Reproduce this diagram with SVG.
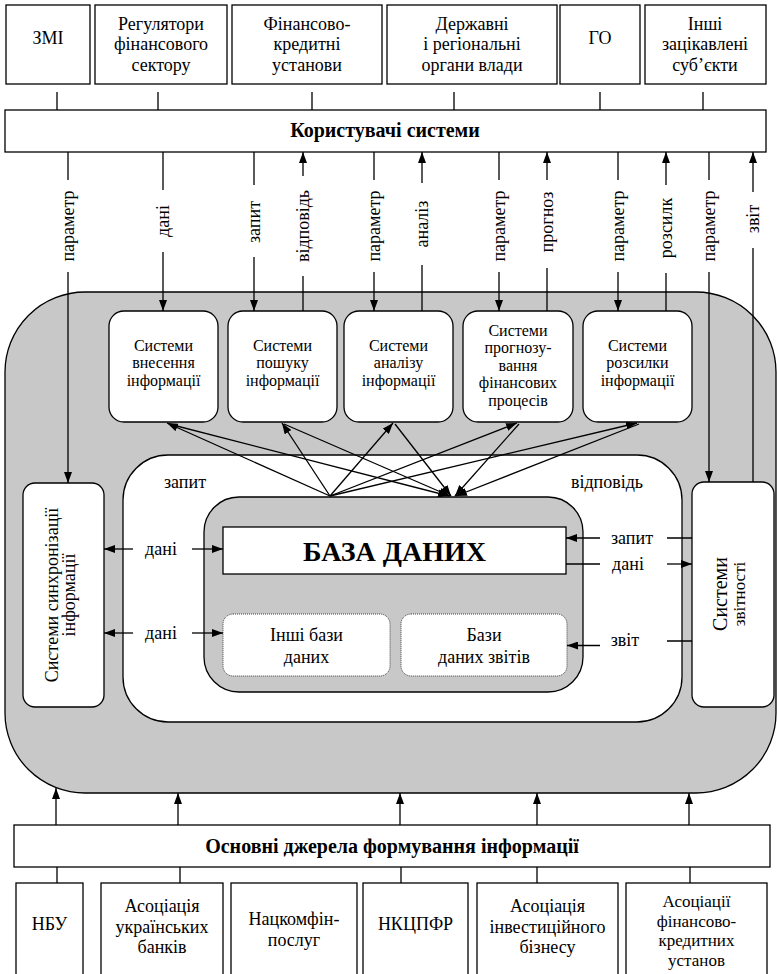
<svg xmlns="http://www.w3.org/2000/svg" width="777" height="974" viewBox="0 0 777 974" font-family="Liberation Serif, Times New Roman, serif" font-size="18" text-anchor="middle">
<style>
.box{fill:#fff;stroke:#000;stroke-width:1.3}
.gray{fill:#c8c8c8;stroke:#000;stroke-width:1.3}
.dot{fill:#fff;stroke:#444;stroke-width:1;stroke-dasharray:1 1}
.ln{fill:none;stroke:#000;stroke-width:1.3}
.bg{fill:#fff}
.tx{fill:#000;font-family:'Liberation Serif','Times New Roman',serif}
</style>
<defs>
<marker id="ah" markerWidth="11" markerHeight="8" refX="11" refY="4" orient="auto" markerUnits="userSpaceOnUse">
<path d="M0,0 L11,4 L0,8 z" fill="#000"/>
</marker>
</defs>
<rect width="777" height="974" fill="#fff"/>

<g id="zmi"><rect class="box" x="6" y="5" width="84" height="79"/><text class="tx" x="48" y="44">ЗМІ</text></g>
<g id="regulators"><rect class="box" x="95" y="5" width="132" height="79"/><text class="tx" x="161" y="29.5">Регулятори</text><text class="tx" x="161" y="50">фінансового</text><text class="tx" x="161" y="70.5">сектору</text></g>
<g id="fin-credit"><rect class="box" x="232" y="5" width="150" height="79"/><text class="tx" x="307" y="29.5">Фінансово-</text><text class="tx" x="307" y="50">кредитні</text><text class="tx" x="307" y="70.5">установи</text></g>
<g id="state"><rect class="box" x="387" y="5" width="170" height="79"/><text class="tx" x="472" y="29.5">Державні</text><text class="tx" x="472" y="50">і регіональні</text><text class="tx" x="472" y="70.5">органи влади</text></g>
<g id="go"><rect class="box" x="560" y="5" width="80" height="79"/><text class="tx" x="600" y="44">ГО</text></g>
<g id="others"><rect class="box" x="645" y="5" width="121" height="79"/><text class="tx" x="705" y="29.5">Інші</text><text class="tx" x="705" y="50">зацікавлені</text><text class="tx" x="705" y="70.5">суб’єкти</text></g>
<g id="users"><rect class="box" x="5" y="110" width="761" height="42"/><text class="tx" x="385" y="136.5" font-weight="bold" font-size="20">Користувачі системи</text></g>

<g id="container"><rect class="gray" x="5" y="292" width="771" height="501" rx="80" ry="80"/></g>

<g id="sys-input" font-size="16"><rect class="box" x="109" y="311" width="109" height="111" rx="15"/><text class="tx" x="163.5" y="350.5">Системи</text><text class="tx" x="163.5" y="368">внесення</text><text class="tx" x="163.5" y="385.5">інформації</text></g>
<g id="sys-search" font-size="16"><rect class="box" x="228" y="311" width="109" height="111" rx="15"/><text class="tx" x="282.5" y="350.5">Системи</text><text class="tx" x="282.5" y="368">пошуку</text><text class="tx" x="282.5" y="385.5">інформації</text></g>
<g id="sys-analysis" font-size="16"><rect class="box" x="344" y="311" width="109" height="111" rx="15"/><text class="tx" x="398.5" y="350.5">Системи</text><text class="tx" x="398.5" y="368">аналізу</text><text class="tx" x="398.5" y="385.5">інформації</text></g>
<g id="sys-forecast" font-size="16"><rect class="box" x="463" y="311" width="110" height="111" rx="15"/><text class="tx" x="518" y="335.5">Системи</text><text class="tx" x="518" y="353">прогнозу-</text><text class="tx" x="518" y="370.5">вання</text><text class="tx" x="518" y="388">фінансових</text><text class="tx" x="518" y="405.5">процесів</text></g>
<g id="sys-mailing" font-size="16"><rect class="box" x="583" y="311" width="109" height="111" rx="15"/><text class="tx" x="637.5" y="350.5">Системи</text><text class="tx" x="637.5" y="368">розсилки</text><text class="tx" x="637.5" y="385.5">інформації</text></g>

<g id="white-zone"><rect class="box" x="123" y="455" width="559" height="267" rx="45"/><text class="tx" x="185" y="487.5">запит</text><text class="tx" x="607" y="487.5">відповідь</text></g>
<g id="db-zone"><rect class="gray" x="204" y="497" width="379" height="195" rx="35"/></g>
<g id="db"><rect class="box" x="223" y="527" width="343" height="47"/><text class="tx" x="394.5" y="561" font-weight="bold" font-size="28">БАЗА ДАНИХ</text></g>
<g id="other-db"><rect class="dot" x="223" y="614" width="167" height="62" rx="10"/><text class="tx" x="306.5" y="641">Інші бази</text><text class="tx" x="306.5" y="662.5">даних</text></g>
<g id="report-db"><rect class="dot" x="401" y="614" width="166" height="62" rx="10"/><text class="tx" x="484" y="641">Бази</text><text class="tx" x="484" y="662.5">даних звітів</text></g>
<g id="sys-sync"><rect class="box" x="23" y="483" width="81" height="224" rx="12"/><text class="tx" transform="translate(58,595) rotate(-90)">Системи синхронізації</text><text class="tx" transform="translate(75,595) rotate(-90)">інформації</text></g>
<g id="sys-report"><rect class="box" x="692" y="482" width="82" height="225" rx="12"/><text class="tx" transform="translate(727,594) rotate(-90)" font-size="20">Системи</text><text class="tx" transform="translate(745,594) rotate(-90)" font-size="17">звітності</text></g>

<g id="sources"><rect class="box" x="14" y="825" width="756" height="42"/><text class="tx" x="392" y="852.5" font-weight="bold" font-size="20">Основні джерела формування інформації</text></g>
<g id="nbu"><rect class="box" x="16" y="883" width="67" height="100"/><text class="tx" x="49.5" y="929.5">НБУ</text></g>
<g id="aub"><rect class="box" x="101" y="883" width="122" height="100"/><text class="tx" x="162" y="911.5">Асоціація</text><text class="tx" x="162" y="932.5">українських</text><text class="tx" x="162" y="953">банків</text></g>
<g id="nfc"><rect class="box" x="231" y="883" width="126" height="100"/><text class="tx" x="294" y="925">Нацкомфін-</text><text class="tx" x="294" y="946">послуг</text></g>
<g id="nssmc"><rect class="box" x="363" y="883" width="105" height="100"/><text class="tx" x="415.5" y="929.5">НКЦПФР</text></g>
<g id="aib"><rect class="box" x="477" y="883" width="141" height="100"/><text class="tx" x="547.5" y="911.5">Асоціація</text><text class="tx" x="547.5" y="932.5">інвестиційного</text><text class="tx" x="547.5" y="953">бізнесу</text></g>
<g id="afci" font-size="17"><rect class="box" x="626" y="883" width="141" height="100"/><text class="tx" x="696.5" y="906.5">Асоціації</text><text class="tx" x="696.5" y="926.5">фінансово-</text><text class="tx" x="696.5" y="946">кредитних</text><text class="tx" x="696.5" y="965.5">установ</text></g>

<g id="connectors" class="ln">
<path class="ln" d="M57,92V110 M158,92V110 M312,92V110 M454,92V110 M600,92V110 M703,92V110"/>
<g marker-end="url(#ah)">
<path class="ln" d="M68,152V483"/>
<path class="ln" d="M163,152V311"/>
<path class="ln" d="M254,152V311"/>
<path class="ln" d="M303,311V152"/>
<path class="ln" d="M374,152V311"/>
<path class="ln" d="M422,311V152"/>
<path class="ln" d="M499,152V311"/>
<path class="ln" d="M547,311V152"/>
<path class="ln" d="M618,152V311"/>
<path class="ln" d="M666,311V152"/>
<path class="ln" d="M709,152V482"/>
<path class="ln" d="M753,482V152"/>
<path class="ln" d="M330,496L167,423"/>
<path class="ln" d="M330,496L282,423"/>
<path class="ln" d="M330,496L393,423"/>
<path class="ln" d="M330,496L517,423"/>
<path class="ln" d="M330,496L637,423"/>
<path class="ln" d="M169,424L449,496"/>
<path class="ln" d="M284,424L450,496"/>
<path class="ln" d="M395,424L451,496"/>
<path class="ln" d="M519,424L455,496"/>
<path class="ln" d="M639,424L456,496"/>
<path class="ln" d="M133,549H104"/>
<path class="ln" d="M192,549H223"/>
<path class="ln" d="M133,633H104"/>
<path class="ln" d="M192,633H223"/>
<path class="ln" d="M600,538H566"/>
<path class="ln" d="M667,564H692"/>
<path class="ln" d="M600,645.5H567"/>
<path class="ln" d="M56,825V788"/>
<path class="ln" d="M178,825V793"/>
<path class="ln" d="M400,825V793"/>
<path class="ln" d="M537,825V793"/>
<path class="ln" d="M689,825V793"/>
</g>
<path class="ln" d="M692,538H667 M566,564H600 M692,641H667"/>
<path class="ln" d="M57,867V883 M180,867V883 M401,867V883 M537,867V883 M690,867V883"/>
</g>

<g id="labels">
<rect class="bg" x="60" y="180" width="18" height="92"/>
<rect class="bg" x="155" y="190" width="18" height="62"/>
<rect class="bg" x="246" y="185" width="18" height="72"/>
<rect class="bg" x="295" y="176" width="18" height="100"/>
<rect class="bg" x="366" y="180" width="18" height="92"/>
<rect class="bg" x="414" y="183" width="18" height="82"/>
<rect class="bg" x="491" y="180" width="18" height="92"/>
<rect class="bg" x="539" y="180" width="18" height="88"/>
<rect class="bg" x="610" y="180" width="18" height="92"/>
<rect class="bg" x="658" y="185" width="18" height="88"/>
<rect class="bg" x="701" y="180" width="18" height="92"/>
<rect class="bg" x="745" y="192" width="18" height="56"/>
<text class="tx" transform="translate(74,226) rotate(-90)">параметр</text>
<text class="tx" transform="translate(169,221) rotate(-90)">дані</text>
<text class="tx" transform="translate(260,222) rotate(-90)">запит</text>
<text class="tx" transform="translate(309,226) rotate(-90)">відповідь</text>
<text class="tx" transform="translate(380,226) rotate(-90)">параметр</text>
<text class="tx" transform="translate(428,224) rotate(-90)">аналіз</text>
<text class="tx" transform="translate(505,226) rotate(-90)">параметр</text>
<text class="tx" transform="translate(553,222) rotate(-90)">прогноз</text>
<text class="tx" transform="translate(624,226) rotate(-90)">параметр</text>
<text class="tx" transform="translate(672,228) rotate(-90)">розсилк</text>
<text class="tx" transform="translate(715,226) rotate(-90)">параметр</text>
<text class="tx" transform="translate(759,219) rotate(-90)">звіт</text>
<text class="tx" x="161" y="555">дані</text>
<text class="tx" x="161" y="638.5">дані</text>
<text class="tx" x="632" y="544">запит</text>
<text class="tx" x="628" y="570">дані</text>
<text class="tx" x="625" y="646">звіт</text>
</g>
</svg>
